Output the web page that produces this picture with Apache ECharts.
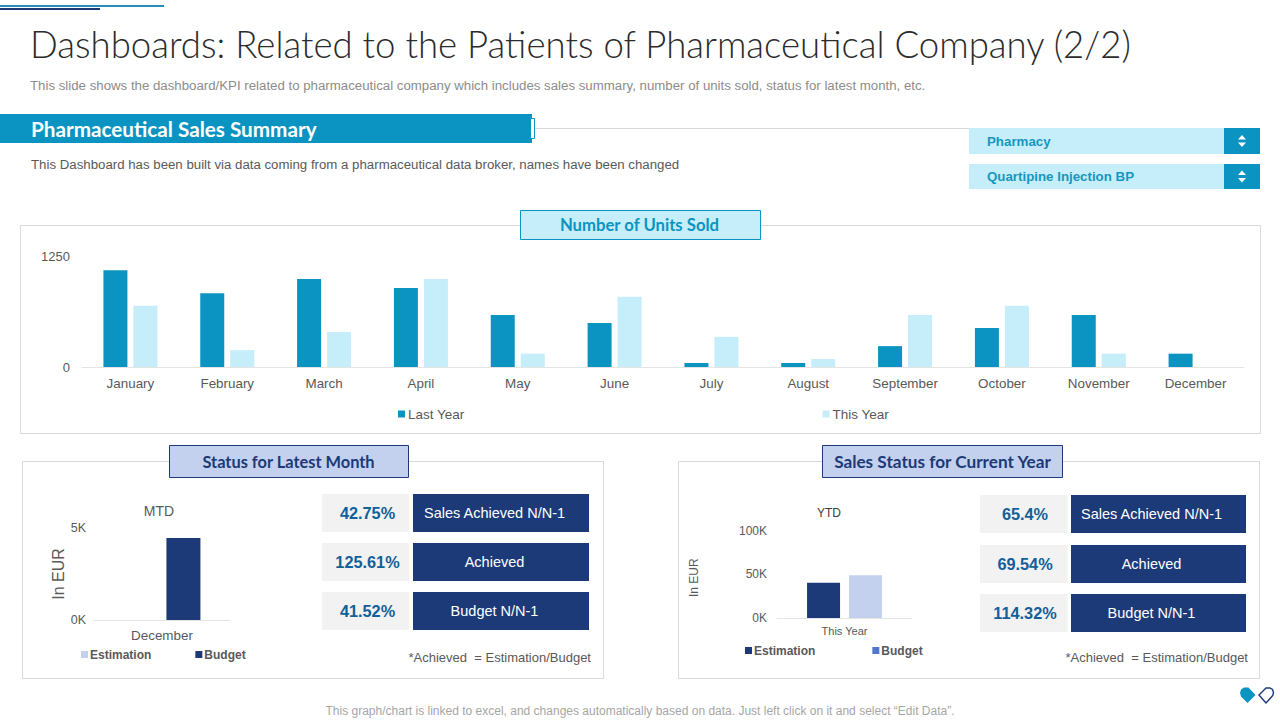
<!DOCTYPE html>
<html><head><meta charset="utf-8">
<style>html,body{margin:0;padding:0;background:#fff}#c{width:1280px;height:720px}</style>
<script src="https://cdn.jsdelivr.net/npm/echarts@6/dist/echarts.min.js"></script>
</head><body><div id="c"></div>
<script>
const months=['January','February','March','April','May','June','July','August','September','October','November','December'];
const lastYear=[1090,830,990,890,585,495,45,45,235,440,585,150];
const thisYear=[690,190,395,990,150,790,340,90,585,690,150,0];
const mtdCategory=['December'];
const mtdEstimation=[0];
const mtdBudget=[4460];
const ytdCategory=['This Year'];
const ytdEstimation=[40200];
const ytdBudget=[48800];
const mtdPercents=['42.75%','125.61%','41.52%'];
const ytdPercents=['65.4%','69.54%','114.32%'];
const kpiLabels=['Sales Achieved N/N-1','Achieved','Budget N/N-1'];

const TEAL='#0b94c1',PALE='#c5edfa',NAVY='#1c3a78',PERI='#c3d1ee',LINE='#d9d9d9',GREY='#595959';
const FONT='"Liberation Sans",Arial,sans-serif',HEAD='Lato,sans-serif';
const g=[];
const rect=(x,y,w,h,fill,stroke,lw)=>g.push({type:'rect',silent:true,shape:{x,y,width:w,height:h},style:{fill:fill||'none',stroke:stroke||'none',lineWidth:lw||1}});
const text=(t,x,y,o={})=>g.push({type:'text',silent:true,x,y,style:{text:t,fill:o.c||GREY,font:(o.w||'normal')+' '+(o.s||12)+'px '+(o.f||FONT),textAlign:o.a||'left',textVerticalAlign:'middle',textBaseline:'middle'}});

rect(0,5,164,2,'#2a8fb8');rect(0,8,100,2,NAVY);
text('Dashboards: Related to the Patients of Pharmaceutical Company (2/2)',30,43.5,{s:36.6,c:'#2b2b2b',f:HEAD,w:'300'});
text('This slide shows the dashboard/KPI related to pharmaceutical company which includes sales summary, number of units sold, status for latest month, etc.',30,85.5,{s:13.25,c:'#8c8c8c'});
g.push({type:'line',silent:true,shape:{x1:532,y1:128.5,x2:969,y2:128.5},style:{stroke:LINE,lineWidth:1}});
rect(0,114,532,29,TEAL);
rect(530.5,118.5,4,20,'#fff',TEAL,1);
text('Pharmaceutical Sales Summary',31,128.5,{s:20.7,c:'#fff',w:'bold',f:HEAD});
text('This Dashboard has been built via data coming from a pharmaceutical data broker, names have been changed',31,164.5,{s:13.25,c:GREY});

[[128,26,'Pharmacy'],[164,25,'Quartipine Injection BP']].forEach(([y,h,t])=>{
  rect(969,y,255,h,PALE);rect(1224,y,36,h,TEAL);
  text(t,987,y+h/2,{s:13.3,c:'#1597bf',w:'bold'});
  const cy=y+h/2,cx=1242;
  g.push({type:'polygon',silent:true,shape:{points:[[cx-4,cy-1.5],[cx+4,cy-1.5],[cx,cy-6]]},style:{fill:'#fff'}});
  g.push({type:'polygon',silent:true,shape:{points:[[cx-4,cy+1.5],[cx+4,cy+1.5],[cx,cy+6]]},style:{fill:'#fff'}});
});

rect(20.5,225.5,1240,208,'#fff',LINE);
rect(520.5,210.5,240,29,PALE,TEAL);
text('Number of Units Sold',639.5,224.5,{s:16.7,c:TEAL,w:'bold',f:HEAD,a:'center'});
rect(22.5,461.5,581,217,'#fff',LINE);
rect(169.5,445.5,239,32,PERI,NAVY);
text('Status for Latest Month',288.5,461,{s:16.4,c:NAVY,w:'bold',f:HEAD,a:'center'});
rect(678.5,461.5,581,217,'#fff',LINE);
rect(822.5,445.5,240,32,PERI,NAVY);
text('Sales Status for Current Year',942.5,461,{s:17.2,c:NAVY,w:'bold',f:HEAD,a:'center'});

const kpi=(pcts,ys,x0,x1,x2,x3,cp,cl)=>pcts.forEach((p,i)=>{
  rect(x0,ys[i],x1-x0,38,'#f2f2f2');rect(x2,ys[i],x3-x2,38,NAVY);
  text(p,cp,ys[i]+18.5,{s:16.3,c:'#11609a',w:'bold',a:'center'});
  text(kpiLabels[i],cl,ys[i]+18.5,{s:14.5,c:'#fff',a:'center'});
});
kpi(mtdPercents,[494,543,592],322,409,413,589,367.5,494.5);
kpi(ytdPercents,[495,545,594],980,1067.5,1071,1246,1025,1151.5);
text('*Achieved  = Estimation/Budget',591,657,{s:13,c:GREY,a:'right'});
text('*Achieved  = Estimation/Budget',1248,657,{s:13,c:GREY,a:'right'});
text('This graph/chart is linked to excel, and changes automatically based on data. Just left click on it and select \u201cEdit Data\u201d.',640,711,{s:12,c:'#a6a6a6',a:'center'});
g.push({type:'polygon',silent:true,shape:{points:[[1247.5,703],[1241,696.5],[1240,693],[1241,689.5],[1244,687.5],[1248.5,687.5],[1255.5,695]]},style:{fill:TEAL}});
g.push({type:'polygon',silent:true,shape:{points:[[1266,703],[1259,695],[1266,688],[1270,688],[1272.5,689.5],[1273.5,692.5],[1272.8,695.5]]},style:{fill:'#fff',stroke:NAVY,lineWidth:1.4}});

const xAxis=(i,data,s,margin)=>({type:'category',gridIndex:i,data,axisTick:{show:false},axisLine:{lineStyle:{color:'#e4e4e4',width:1}},axisLabel:{color:GREY,fontSize:s,fontFamily:FONT,margin}});
const yAxis=(i,max,interval,s,margin,fmt,name,nameSize,nameGap,namePad)=>({type:'value',gridIndex:i,min:0,max,interval,splitLine:{show:false},axisLine:{show:false},axisTick:{show:false},
  axisLabel:{color:GREY,fontSize:s,fontFamily:FONT,margin,formatter:fmt},name,nameLocation:'middle',nameRotate:90,nameGap,nameTextStyle:{color:GREY,fontSize:nameSize,fontFamily:FONT,padding:namePad||0}});
const k=v=>(v/1000)+'K';
const bar=(name,data,i,color,w,gap)=>({type:'bar',name,data,xAxisIndex:i,yAxisIndex:i,barWidth:w,barGap:gap,itemStyle:{color},silent:true,animation:false});
const legend=(left,top,gap,items,s,w,pad)=>({left,top,itemWidth:7,itemHeight:7,itemGap:gap,icon:'rect',selectedMode:false,padding:0,
  textStyle:{color:GREY,fontSize:s,fontFamily:FONT,fontWeight:w,padding:[0,0,0,pad]},data:items.map(([name,color])=>({name,itemStyle:{color}}))});

const chart=echarts.init(document.getElementById('c'),null,{renderer:'svg',width:1280,height:720});
chart.setOption({
  animation:false,backgroundColor:'#fff',
  graphic:{elements:g},
  title:[{text:'MTD',left:159,top:511,textAlign:'center',textVerticalAlign:'middle',padding:0,textStyle:{color:GREY,fontSize:14,fontWeight:'normal',fontFamily:FONT}},
         {text:'YTD',left:829,top:513,textAlign:'center',textVerticalAlign:'middle',padding:0,textStyle:{color:'#404040',fontSize:12,fontWeight:'normal',fontFamily:FONT}}],
  grid:[{left:82,width:1162,top:256,height:111},{left:94,width:136,top:528,height:92},{left:777,width:135,top:530.5,height:87.5}],
  xAxis:[xAxis(0,months,13.4,9.5),xAxis(1,mtdCategory,13.4,9),xAxis(2,ytdCategory,11,7.5)],
  yAxis:[yAxis(0,1250,1250,13,12,v=>String(v)),yAxis(1,5000,5000,12.5,8,k,'In EUR',16,28),yAxis(2,100000,50000,12,10,k,'In EUR',12,77,[0,7,0,0])],
  legend:[legend(398,407,358,[['Last Year',TEAL],['This Year',PALE]],13.5,'normal',-2),
          legend(81,648.5,44,[['Estimation',PERI],['Budget',NAVY]],12,'bold',-3),
          legend(745,644.5,57,[['Estimation',NAVY],['Budget','#4f77cf']],12,'bold',-3)],
  series:[bar('Last Year',lastYear,0,TEAL,24,'25%'),bar('This Year',thisYear,0,PALE,24,'25%'),
          bar('Estimation',mtdEstimation,1,PERI,34,'26%'),bar('Budget',mtdBudget,1,NAVY,34,'26%'),
          bar('Estimation',ytdEstimation,2,NAVY,33,'27%'),bar('Budget',ytdBudget,2,PERI,33,'27%')]
});
</script></body></html>
